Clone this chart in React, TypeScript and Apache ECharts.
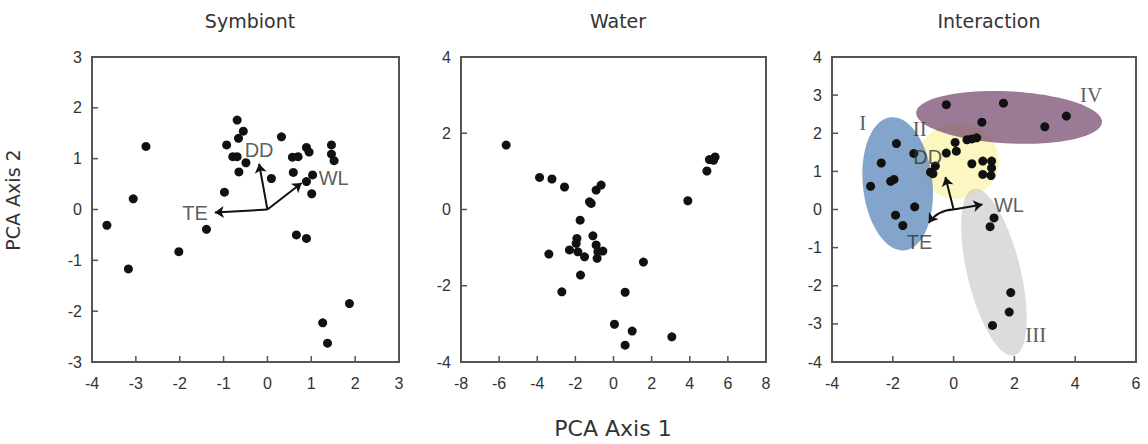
import React, { useEffect, useRef } from "react";
import * as echarts from "echarts";

// ---------- data ----------
const panelTitles = ["Symbiont", "Water", "Interaction"];

const symbiontPoints: number[][] = [
  [-3.66, -0.31], [-3.17, -1.17], [-3.06, 0.21], [-2.77, 1.24], [-2.02, -0.83],
  [-1.39, -0.39], [-0.98, 0.34], [-0.93, 1.27], [-0.69, 1.76], [-0.55, 1.54],
  [-0.66, 1.4], [-0.79, 1.04], [-0.69, 1.04], [-0.49, 0.92], [-0.65, 0.74],
  [0.09, 0.61], [0.32, 1.43], [0.57, 1.03], [0.7, 1.04], [0.59, 0.73],
  [0.89, 1.22], [0.95, 1.13], [0.89, 0.55], [1.03, 0.68], [1.01, 0.31],
  [1.46, 1.27], [1.46, 1.09], [1.52, 0.96], [0.66, -0.5], [0.89, -0.57],
  [1.87, -1.85], [1.26, -2.23], [1.37, -2.63],
];

const waterPoints: number[][] = [
  [-5.63, 1.69], [-3.88, 0.84], [-3.23, 0.8], [-2.57, 0.59], [-0.91, 0.51],
  [-0.65, 0.64], [-1.26, 0.2], [-1.17, 0.16], [-1.75, -0.28], [-1.08, -0.69],
  [-1.92, -0.76], [-1.96, -0.89], [-2.31, -1.06], [-1.87, -1.11], [-1.52, -1.24],
  [-0.91, -0.93], [-0.82, -1.11], [-0.56, -1.09], [-0.86, -1.28], [-3.39, -1.17],
  [-1.73, -1.72], [-2.71, -2.16], [1.57, -1.38], [0.61, -2.17], [0.05, -3.01],
  [0.98, -3.19], [0.61, -3.56], [3.06, -3.34], [3.9, 0.23], [4.9, 1.01],
  [5.03, 1.31], [5.33, 1.38], [5.25, 1.29],
];

const interactionPoints: number[][] = [
  // group I
  [-1.88, 1.73], [-2.38, 1.22], [-2.73, 0.61], [-2.07, 0.74], [-1.96, 0.79],
  [-1.31, 1.47], [-1.28, 0.07], [-1.91, -0.15], [-1.67, -0.42],
  // group IV
  [-0.24, 2.75], [1.64, 2.79], [0.93, 2.29], [3.0, 2.17], [3.71, 2.45],
  // group II
  [0.05, 1.76], [0.44, 1.83], [0.6, 1.85], [0.76, 1.88], [-0.24, 1.48],
  [0.09, 1.53], [-0.6, 1.14], [-0.76, 0.98], [-0.68, 0.94], [0.6, 1.2],
  [0.96, 1.27], [1.25, 1.27], [1.25, 1.09], [0.96, 0.92], [1.23, 0.89],
  // group III
  [1.33, -0.22], [1.2, -0.45], [1.88, -2.18], [1.83, -2.69], [1.28, -3.04],
];

// environmental vectors: name, arrow tip, label position
const vectorNames = ["TE", "DD", "WL"];
const symbiontVectorTips: number[][] = [[-1.2, -0.06], [-0.19, 0.9], [0.78, 0.52]];
const symbiontVectorLabels: number[][] = [[-1.65, -0.06], [-0.19, 1.17], [1.51, 0.61]];
const interactionVectorTips: number[][] = [[-0.82, -0.35], [-0.27, 0.85], [0.95, 0.13]];
const interactionVectorLabels: number[][] = [[-1.12, -0.86], [-0.85, 1.38], [1.82, 0.11]];

// groups (ellipses): major-axis end points and minor/major ratio
const groupNames = ["II", "III", "I", "IV"];
const groupAxisEnds: number[][] = [
  [-1.2, 1.27, 1.49, 1.27],
  [0.66, 0.54, 1.99, -3.83],
  [-2.07, 2.42, -1.61, -1.07],
  [-1.23, 2.54, 4.88, 2.29],
];
const groupRatios = [0.93, 0.31, 0.52, 0.28];
const groupLabelPos: number[][] = [[-1.11, 2.1], [2.7, -3.28], [-2.99, 2.26], [4.52, 3.0]];

// axis ranges [min, max, interval]
const xRanges = [[-4, 3, 1], [-8, 8, 2], [-4, 6, 2]];
const yRanges = [[-3, 3, 1], [-4, 4, 2], [-4, 4, 1]];

// ---------- styles ----------
const groupFills = [
  "rgba(252,246,186,0.9)",
  "rgba(205,205,205,0.7)",
  "rgba(104,144,192,0.82)",
  "rgba(112,66,104,0.7)",
];
const TXT = "#333";
const AXIS = "#555";
const SANS = "Liberation Sans, Arial, sans-serif";
const SERIF = "Liberation Serif, Times New Roman, serif";

function tickValues(r: number[]) {
  const out: number[] = [];
  for (let v = r[0]; v <= r[1] + 1e-9; v += r[2]) out.push(v);
  return out;
}

export default function App() {
  const ref = useRef<HTMLDivElement>(null);

  useEffect(() => {
    const chart = echarts.init(ref.current!, null, { renderer: "svg" });

    const grids = [
      { left: 92, top: 57, width: 307, height: 305 },
      { left: 461, top: 57, width: 305, height: 305 },
      { left: 832, top: 57, width: 304, height: 305 },
    ].map((g) => ({
      ...g,
      show: true,
      borderColor: AXIS,
      borderWidth: 2,
      backgroundColor: "transparent",
    }));

    const axisCommon = {
      axisLine: { show: true, onZero: false, lineStyle: { color: AXIS, width: 2 } },
      splitLine: { show: false },
      axisTick: { show: false },
    };
    const xLabel = { color: TXT, fontSize: 16, fontFamily: SANS, margin: 13 };
    const yLabel = { color: TXT, fontSize: 16, fontFamily: SANS, margin: 10 };

    const xAxis = xRanges.map((r, i) => ({
      type: "value", gridIndex: i, min: r[0], max: r[1], interval: r[2], position: "bottom",
      ...axisCommon, axisLabel: xLabel,
    }));
    const yAxis = yRanges.map((r, i) => ({
      type: "value", gridIndex: i, min: r[0], max: r[1], interval: r[2], position: "left",
      ...axisCommon, axisLabel: yLabel,
    }));

    // inward tick marks, placed through the axis scales
    const tickSeries = xRanges.map((xr, i) => {
      const yr = yRanges[i];
      const data: number[][] = [];
      tickValues(xr).forEach((v) => data.push([v, yr[0], 0]));
      tickValues(yr).forEach((v) => data.push([xr[0], v, 1]));
      return {
        type: "custom",
        xAxisIndex: i,
        yAxisIndex: i,
        silent: true,
        z: 7,
        encode: { x: 0, y: 1 },
        data,
        renderItem: (_p: any, api: any) => {
          const pt = api.coord([api.value(0), api.value(1)]);
          const isY = api.value(2) === 1;
          return {
            type: "line",
            shape: isY
              ? { x1: pt[0], y1: pt[1], x2: pt[0] + 6, y2: pt[1] }
              : { x1: pt[0], y1: pt[1], x2: pt[0], y2: pt[1] - 6 },
            style: { stroke: AXIS, lineWidth: 1.5 },
          };
        },
      };
    });

    const pointSeries = [symbiontPoints, waterPoints, interactionPoints].map((pts, i) => ({
      type: "scatter",
      xAxisIndex: i,
      yAxisIndex: i,
      data: pts,
      symbolSize: 9,
      itemStyle: { color: "#111", opacity: 1 },
      z: 4,
    }));

    const ellipseSeries = {
      type: "custom",
      xAxisIndex: 2,
      yAxisIndex: 2,
      z: 1,
      silent: true,
      encode: { x: [0, 2], y: [1, 3] },
      data: groupAxisEnds.map((e, i) => [e[0], e[1], e[2], e[3], groupRatios[i], i]),
      renderItem: (_params: any, api: any) => {
        const a1 = api.coord([api.value(0), api.value(1)]);
        const a2 = api.coord([api.value(2), api.value(3)]);
        const ratio = api.value(4);
        const idx = api.value(5);
        const cx = (a1[0] + a2[0]) / 2;
        const cy = (a1[1] + a2[1]) / 2;
        const dx = (a2[0] - a1[0]) / 2;
        const dy = (a2[1] - a1[1]) / 2;
        const a = Math.sqrt(dx * dx + dy * dy);
        const ux = dx / a, uy = dy / a;
        const vx = -uy, vy = ux;
        const b = a * ratio;
        const points: number[][] = [];
        const n = 90;
        for (let k = 0; k < n; k++) {
          const t = (k / n) * Math.PI * 2;
          const c = Math.cos(t) * a, s = Math.sin(t) * b;
          points.push([cx + ux * c + vx * s, cy + uy * c + vy * s]);
        }
        return {
          type: "polygon",
          shape: { points },
          style: { fill: groupFills[idx], stroke: "none" },
        };
      },
    };

    const arrowSeries = (axisIdx: number, tips: number[][], curved: boolean) => ({
      type: "lines",
      coordinateSystem: "cartesian2d",
      xAxisIndex: axisIdx,
      yAxisIndex: axisIdx,
      symbol: ["none", "arrow"],
      symbolSize: 9,
      silent: true,
      z: 5,
      lineStyle: { color: "#111", width: 2, opacity: 1 },
      data: tips.map((t, i) => ({
        coords: [[0, 0], t],
        lineStyle: { curveness: curved && vectorNames[i] === "TE" ? -0.25 : 0 },
      })),
    });

    const labelSeries = (axisIdx: number, names: string[], pos: number[][], family: string, size: number) => ({
      type: "scatter",
      xAxisIndex: axisIdx,
      yAxisIndex: axisIdx,
      silent: true,
      symbolSize: 1,
      itemStyle: { color: "rgba(0,0,0,0)" },
      z: 6,
      data: names.map((nm, i) => ({ name: nm, value: pos[i] })),
      label: {
        show: true,
        position: "inside",
        formatter: "{b}",
        color: TXT,
        fontSize: size,
        fontFamily: family,
      },
    });

    const option = {
      animation: false,
      backgroundColor: "#fff",
      title: panelTitles.map((t, i) => ({
        text: t,
        left: [245, 613, 984][i],
        top: 6,
        textAlign: "center",
        textStyle: { color: TXT, fontSize: 19, fontWeight: "normal", fontFamily: "DejaVu Sans, sans-serif" },
      })),
      grid: grids,
      xAxis,
      yAxis,
      graphic: [
        {
          type: "text",
          x: 613,
          y: 428,
          style: {
            text: "PCA Axis 1",
            fill: TXT,
            font: "22px DejaVu Sans, sans-serif",
            textAlign: "center",
            textVerticalAlign: "middle",
          },
        },
        {
          type: "text",
          x: 13,
          y: 200,
          rotation: Math.PI / 2,
          style: {
            text: "PCA Axis 2",
            fill: TXT,
            font: "19px DejaVu Sans, sans-serif",
            textAlign: "center",
            textVerticalAlign: "middle",
          },
        },
      ],
      series: [
        ellipseSeries,
        ...tickSeries,
        ...pointSeries,
        arrowSeries(0, symbiontVectorTips, false),
        arrowSeries(2, interactionVectorTips, true),
        labelSeries(0, vectorNames, symbiontVectorLabels, SANS, 20),
        labelSeries(2, vectorNames, interactionVectorLabels, SANS, 20),
        labelSeries(2, groupNames, groupLabelPos, SERIF, 21),
      ],
    };

    chart.setOption(option as any);
    return () => chart.dispose();
  }, []);

  return (
    <div
      ref={ref}
      style={{ position: "absolute", left: 0, top: 0, width: 1148, height: 444 }}
    />
  );
}
